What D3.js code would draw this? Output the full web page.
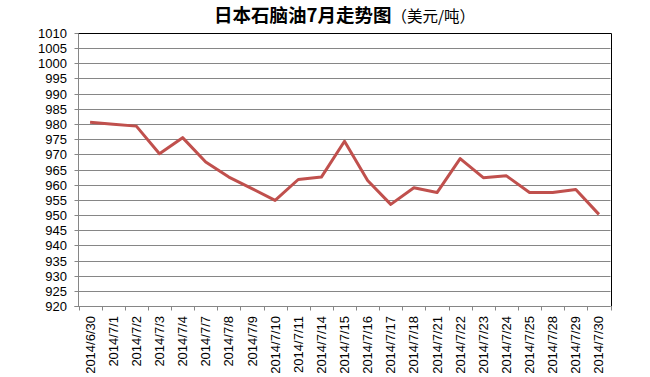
<!DOCTYPE html>
<head>
  <meta charset="utf-8">
  <script src="https://cdn.jsdelivr.net/npm/d3@7"></script>
  <style>
    body { margin: 0; background: #fff; }
    svg { display: block; font-family: "Liberation Sans", Arial, sans-serif; }
    .grid line { stroke: #868686; stroke-width: 1; }
    .tick text { fill: #000; }
  </style>
</head>
<body>
<div id="chart"></div>
<script>

var dates = ["2014/6/30","2014/7/1","2014/7/2","2014/7/3","2014/7/4","2014/7/7","2014/7/8",
             "2014/7/9","2014/7/10","2014/7/11","2014/7/14","2014/7/15","2014/7/16","2014/7/17",
             "2014/7/18","2014/7/21","2014/7/22","2014/7/23","2014/7/24","2014/7/25","2014/7/28",
             "2014/7/29","2014/7/30"];
var prices = [980.6, 979.9, 979.3, 970.2, 975.5, 967.5, 962.5, 958.7, 954.8, 961.7, 962.5, 974.3,
              961.4, 953.5, 959.0, 957.4, 968.6, 962.3, 962.9, 957.4, 957.4, 958.4, 950.2];
var yTicks = d3.range(920, 1011, 5);

var width = 650, height = 377;
var margin = {top: 33, right: 39.5, bottom: 71, left: 78.5};

var svg = d3.select("#chart").append("svg")
    .attr("width", width)
    .attr("height", height);

var x = d3.scaleBand()
    .domain(dates)
    .range([margin.left, width - margin.right]);

var y = d3.scaleLinear()
    .domain([920, 1010])
    .range([height - margin.bottom, margin.top]);

// gridlines + y ticks
var grid = svg.append("g").attr("class", "grid");
grid.selectAll("line")
    .data(yTicks)
  .enter().append("line")
    .attr("x1", margin.left - 4)
    .attr("x2", width - margin.right)
    .attr("y1", function(d) { return Math.round(y(d)) + 0.5; })
    .attr("y2", function(d) { return Math.round(y(d)) + 0.5; });

svg.append("g").selectAll("text")
    .data(yTicks)
  .enter().append("text")
    .attr("x", 67)
    .attr("y", function(d) { return Math.round(y(d)) + 0.5; })
    .attr("dy", "0.35em")
    .style("text-anchor", "end")
    .style("font-size", "13px")
    .text(function(d) { return d; });

// plot border: top and right dark
var x0 = margin.left, x1 = width - margin.right;
var yTop = Math.round(y(1010)) + 0.5, yBot = Math.round(y(920)) + 0.5;
svg.append("path")
    .attr("d", "M" + x0 + "," + yTop + "H" + Math.round(x1) + ".5V" + yBot)
    .attr("fill", "none")
    .attr("stroke", "#000");

// axes lines
svg.append("line")
    .attr("x1", x0).attr("x2", x0)
    .attr("y1", yTop).attr("y2", yBot)
    .attr("stroke", "#868686");
svg.append("line")
    .attr("x1", x0 - 4).attr("x2", x1)
    .attr("y1", yBot).attr("y2", yBot)
    .attr("stroke", "#868686");

// x ticks between categories
var bounds = dates.map(function(d) { return x(d); }).concat([x1]);
svg.append("g").selectAll("line")
    .data(bounds)
  .enter().append("line")
    .attr("x1", function(d) { return Math.round(d) + 0.5; })
    .attr("x2", function(d) { return Math.round(d) + 0.5; })
    .attr("y1", yBot)
    .attr("y2", yBot + 4)
    .attr("stroke", "#868686");

// x labels
svg.append("g").selectAll("text")
    .data(dates)
  .enter().append("text")
    .attr("transform", function(d) {
      return "translate(" + (x(d) + x.bandwidth() / 2) + "," + 316 + ") rotate(-90)";
    })
    .attr("dy", "0.35em")
    .style("text-anchor", "end")
    .style("font-size", "13px")
    .text(function(d) { return d; });

// line
var line = d3.line()
    .x(function(d, i) { return x(dates[i]) + x.bandwidth() / 2; })
    .y(function(d) { return y(d); });

svg.append("path")
    .datum(prices)
    .attr("d", line)
    .attr("fill", "none")
    .attr("stroke", "#C0504D")
    .attr("stroke-width", 3)
    .attr("stroke-linejoin", "round");

// title
var title = svg.append("text")
    .attr("x", 214)
    .attr("y", 21.5)
    .style("font-family", "'Noto Sans CJK SC', sans-serif");
title.append("tspan")
    .style("font-size", "18.5px")
    .style("font-weight", "bold")
    .text("日本石脑油7月走势图");
title.append("tspan")
    .style("font-size", "15.5px")
    .text("（美元/吨）");

</script>
</body>
